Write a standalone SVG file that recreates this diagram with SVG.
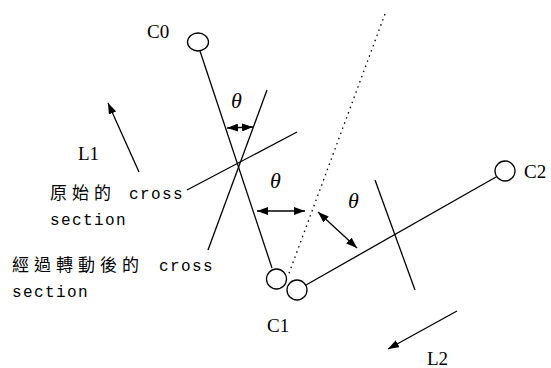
<svg xmlns="http://www.w3.org/2000/svg" width="551" height="368" viewBox="0 0 551 368">
<style>
.ln{stroke:#000;stroke-width:1.3;fill:none}
.nd{stroke:#000;stroke-width:1.3;fill:#fff}
.lbl{font-family:"Liberation Serif",serif;font-size:19px;fill:#000}
.th{font-family:"Liberation Serif",serif;font-size:22px;font-style:italic;fill:#000}
.cjk{font-family:"Noto Sans CJK TC","Noto Sans CJK SC",sans-serif;font-size:17px;fill:#000}
.mono{font-family:"Liberation Mono",monospace;font-size:16px;letter-spacing:1.4px;fill:#000}
</style>
<defs>
<marker id="ah" viewBox="0 0 11 8" refX="11" refY="4" markerWidth="11" markerHeight="8" markerUnits="userSpaceOnUse" orient="auto-start-reverse">
<path d="M0,0 L11,4 L0,8 z" fill="#000"/>
</marker>
</defs>
<rect width="551" height="368" fill="#fff"/>
<g id="connectors">
<line class="ln" x1="200" y1="51" x2="272" y2="268"/>
<line class="ln" x1="306" y1="285" x2="496" y2="177"/>
<line class="ln" x1="385" y1="14" x2="288" y2="276" stroke-dasharray="1.5 4"/>
<line class="ln" x1="297" y1="132" x2="187" y2="190"/>
<line class="ln" x1="267" y1="90" x2="208" y2="250"/>
<line class="ln" x1="375" y1="180" x2="415" y2="290"/>
<line class="ln" x1="139" y1="172" x2="108" y2="103" marker-end="url(#ah)"/>
<line class="ln" x1="457" y1="311" x2="388" y2="349" marker-end="url(#ah)"/>
<line class="ln" x1="227" y1="128" x2="253" y2="127" marker-start="url(#ah)" marker-end="url(#ah)"/>
<line class="ln" x1="257" y1="211" x2="305" y2="211" marker-start="url(#ah)" marker-end="url(#ah)"/>
<line class="ln" x1="318" y1="212" x2="357" y2="248" marker-start="url(#ah)" marker-end="url(#ah)"/>
</g>
<g id="C0">
<ellipse class="nd" cx="198" cy="42" rx="10.5" ry="9"/>
<text class="lbl" x="147" y="38">C0</text>
</g>
<g id="C1">
<circle class="nd" cx="276.5" cy="279" r="10"/>
<circle class="nd" cx="297" cy="290" r="10"/>
<text class="lbl" x="267" y="332">C1</text>
</g>
<g id="C2">
<circle class="nd" cx="505" cy="171" r="10"/>
<text class="lbl" x="524" y="178">C2</text>
</g>
<g id="L1"><text class="lbl" x="78" y="160">L1</text></g>
<g id="L2"><text class="lbl" x="427" y="365">L2</text></g>
<g id="thetas">
<text class="th" x="231" y="108">θ</text>
<text class="th" x="270" y="188">θ</text>
<text class="th" x="348" y="208">θ</text>
</g>
<g id="label-original">
<text class="cjk" y="199"><tspan x="50">原</tspan><tspan x="72">始</tspan><tspan x="94">的</tspan></text>
<text class="mono" x="129" y="199">cross</text>
<text class="mono" x="50" y="225">section</text>
</g>
<g id="label-rotated">
<text class="cjk" y="271"><tspan x="12">經</tspan><tspan x="34">過</tspan><tspan x="56">轉</tspan><tspan x="78">動</tspan><tspan x="100">後</tspan><tspan x="122">的</tspan></text>
<text class="mono" x="159" y="271">cross</text>
<text class="mono" x="12" y="297">section</text>
</g>
</svg>
